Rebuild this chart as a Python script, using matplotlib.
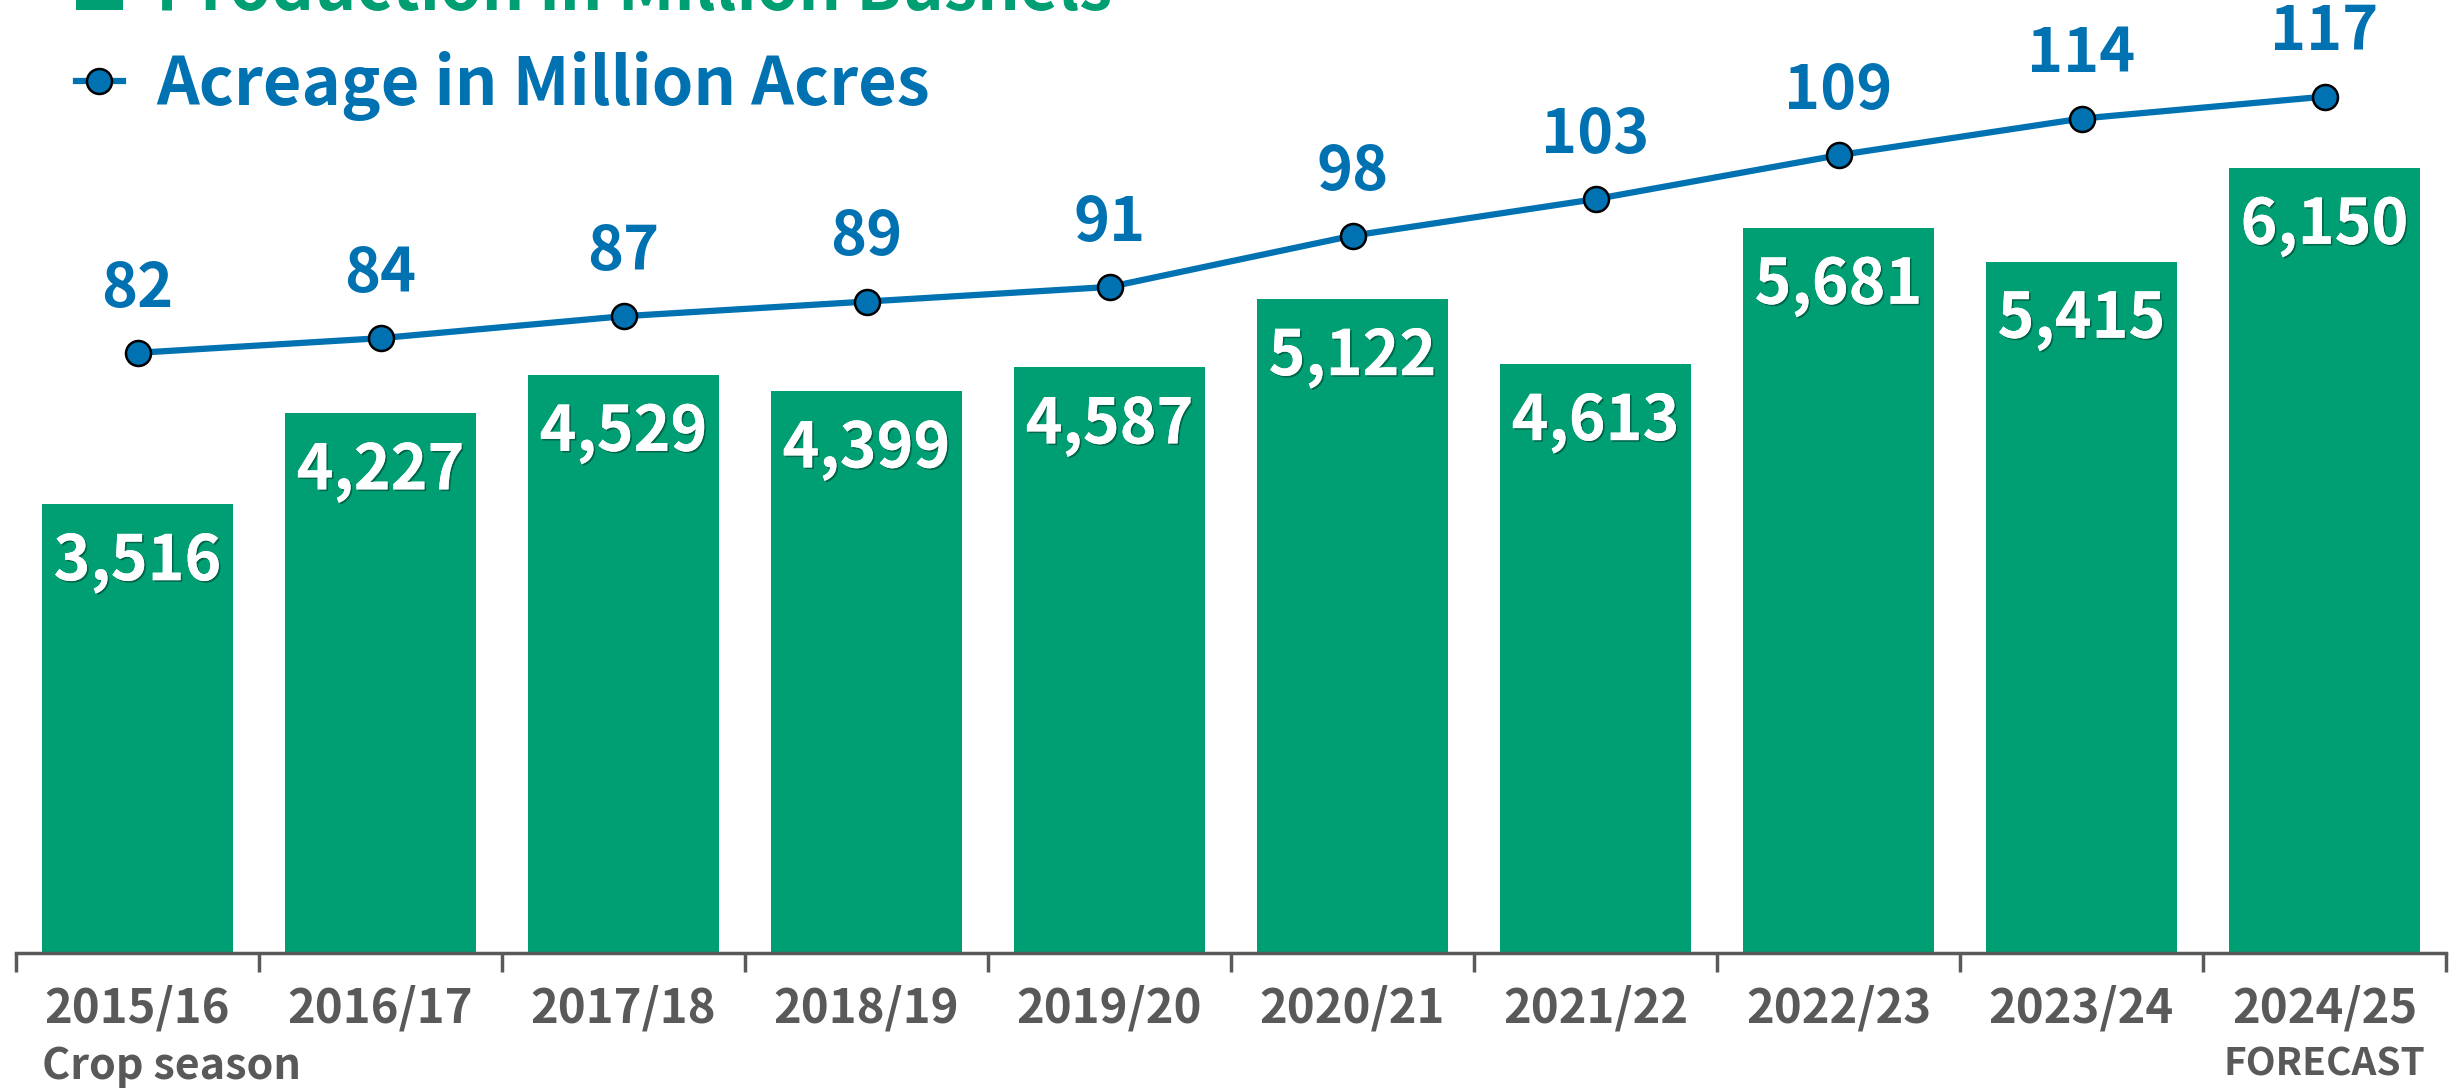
import matplotlib
matplotlib.use("Agg")
import matplotlib.pyplot as plt
import matplotlib.patheffects as pe
import numpy as np

plt.rcParams['font.family'] = ['Noto Sans CJK SC', 'DejaVu Sans']
plt.rcParams['font.weight'] = 'bold'

seasons = ["2015/16", "2016/17", "2017/18", "2018/19", "2019/20",
           "2020/21", "2021/22", "2022/23", "2023/24", "2024/25"]
production = [3516, 4227, 4529, 4399, 4587, 5122, 4613, 5681, 5415, 6150]
acreage = [82, 84, 87, 89, 91, 98, 103, 109, 114, 117]

GREEN = "#009E73"
BLUE = "#0072B2"
GRAY = "#595959"

fig = plt.figure(figsize=(24.56, 10.89), dpi=100)
ax = fig.add_axes([16/2456, 136/1089, 2430/2456, 953/1089])
ax2 = ax.twinx()

x = np.arange(len(seasons))
bw = 0.79
bars = ax.bar(x, production, width=bw, color=GREEN, zorder=2,
              label="Production in Million Bushels")
line, = ax2.plot(x, acreage, color=BLUE, lw=4.5, marker='o', ms=18,
                 mfc=BLUE, mec='black', mew=1.8, zorder=3,
                 label="Acreage in Million Acres")

ax.set_xlim(-0.5, len(seasons) - 0.5)
ax.set_ylim(0, 7463)
ax2.set_ylim(0, 130.2)

for a in (ax, ax2):
    for s in ('top', 'right', 'left'):
        a.spines[s].set_visible(False)
    a.set_yticks([])
ax2.spines['bottom'].set_visible(False)
ax.spines['bottom'].set_color(GRAY)
ax.spines['bottom'].set_linewidth(2.5)

ax.set_xticks(x)
ax.set_xticklabels(seasons, fontsize=34, color=GRAY, fontweight='bold')
ax.tick_params(axis='x', which='major', length=0, pad=40)
for lbl in ax.get_xticklabels():
    lbl.set_va('center')
ax.set_xticks(np.arange(-0.5, len(seasons), 1), minor=True)
ax.tick_params(axis='x', which='minor', length=14, width=2.5, color=GRAY)

shadow = [pe.withSimplePatchShadow(offset=(1.2, -1.2), shadow_rgbFace='black', alpha=0.35), pe.Normal()]
for xi, v in zip(x, production):
    ax.annotate(f"{v:,}", xy=(xi, v), xytext=(0, -42), textcoords='offset points',
                ha='center', va='center', color='white', fontsize=45,
                fontweight='bold', path_effects=shadow, zorder=4)

for xi, v in zip(x, acreage):
    ax2.annotate(f"{v}", xy=(xi, v), xytext=(0, 46), textcoords='offset points',
                 ha='center', va='center', color=BLUE, fontsize=44,
                 fontweight='bold', zorder=4)

ax.annotate("Crop season", xy=(x[0] - bw/2, 0), xytext=(0, -81),
            textcoords='offset points', ha='left', va='center',
            fontsize=31, color=GRAY, fontweight='bold')
ax.annotate("FORECAST", xy=(x[-1], 0), xytext=(0, -80),
            textcoords='offset points', ha='center', va='center',
            fontsize=28, color=GRAY, fontweight='bold')

leg = fig.legend(handles=[bars, line], loc='upper left',
                 bbox_to_anchor=(76/2456, 1 + 43/1089), frameon=False,
                 fontsize=48, handlelength=0.7, handletextpad=0.5,
                 labelspacing=0.4, borderaxespad=0, borderpad=0)
for t, c in zip(leg.get_texts(), [GREEN, BLUE]):
    t.set_color(c)
    t.set_fontweight('bold')

fig.savefig("out.png", dpi=100)
